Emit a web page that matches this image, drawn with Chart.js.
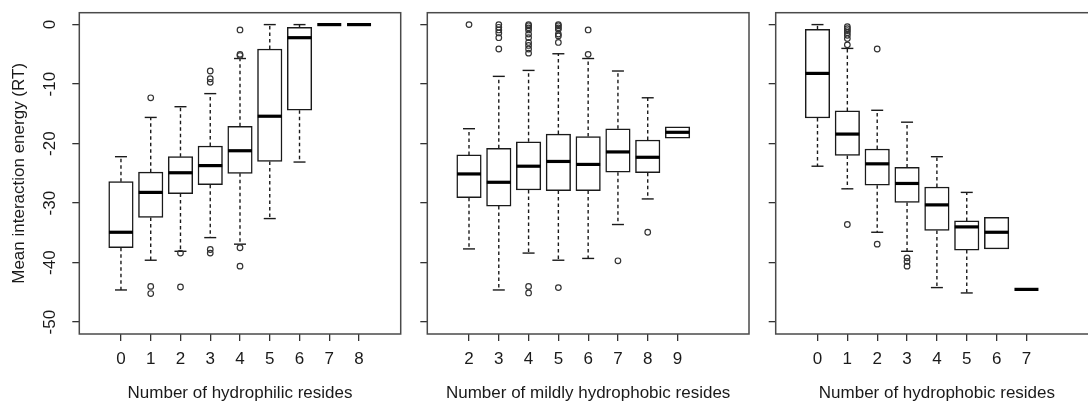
<!DOCTYPE html>
<html>
<head>
<meta charset="utf-8">
<script src="https://cdn.jsdelivr.net/npm/chart.js@4.4.1/dist/chart.umd.min.js"></script>
<style>
    html, body { margin: 0; padding: 0; background: #fff; overflow: hidden; }
    #wrap { position: relative; width: 1088px; height: 401px; overflow: hidden; background: #fff; }
    #wrap canvas { position: absolute; top: 0; }
</style>
</head>
<body>
<div id="wrap">
    <canvas id="hydrophilic" width="410" height="401" style="left:0px"></canvas>
    <canvas id="mildly" width="350" height="401" style="left:410px"></canvas>
    <canvas id="hydrophobic" width="350" height="401" style="left:760px"></canvas>
</div>
<script>
// Shared y axis
const yTicks = [0, -10, -20, -30, -40, -50];

// Panel 1: hydrophilic residues
const philicCounts = [0, 1, 2, 3, 4, 5, 6, 7, 8];
const philicLow    = [-44.6, -39.6, -38.1, -35.8, -36.9, -32.6, -23.1, 0, 0];
const philicQ1     = [-37.5, -32.4, -28.4, -26.9, -25.0, -23.0, -14.4, 0, 0];
const philicMedian = [-34.9, -28.2, -24.9, -23.7, -21.2, -15.4, -2.2, 0, 0];
const philicQ3     = [-26.4, -24.8, -22.2, -20.4, -17.1, -4.1, -0.45, 0, 0];
const philicHigh   = [-22.2, -15.6, -13.8, -11.6, -5.7, 0, 0, 0, 0];
const philicOutliers = [
    [1, -12.3], [1, -44.0], [1, -45.2],
    [2, -38.4], [2, -44.1],
    [3, -7.8], [3, -9.1], [3, -9.7], [3, -37.8], [3, -38.4],
    [4, -0.9], [4, -5.0], [4, -5.2], [4, -37.5], [4, -40.6]
];

// Panel 2: mildly hydrophobic residues
const mildCounts = [2, 3, 4, 5, 6, 7, 8, 9];
const mildLow    = [-37.7, -44.6, -38.4, -39.6, -39.3, -33.6, -29.3, -19.1];
const mildQ1     = [-29.1, -30.5, -27.8, -27.9, -27.9, -24.8, -24.9, -19.1];
const mildMedian = [-25.1, -26.5, -23.8, -23.0, -23.5, -21.4, -22.3, -18.1];
const mildQ3     = [-21.9, -20.8, -19.7, -18.4, -18.8, -17.5, -19.4, -17.2];
const mildHigh   = [-17.5, -8.7, -7.7, -4.9, -5.7, -7.8, -12.3, -17.2];
const mildOutliers = [
    [2, 0],
    [3, 0], [3, -0.45], [3, -0.9], [3, -1.4], [3, -2.2], [3, -4.1],
    [4, 0], [4, -0.2], [4, -0.55], [4, -0.9], [4, -1.6], [4, -2.2], [4, -3.0], [4, -3.5], [4, -4.1], [4, -4.8],
    [4, -44.0], [4, -45.1],
    [5, 0], [5, -0.2], [5, -0.55], [5, -0.8], [5, -1.6], [5, -1.9], [5, -3.0], [5, -44.2],
    [6, -0.9], [6, -5.0],
    [7, -39.7],
    [8, -34.9]
];

// Panel 3: hydrophobic residues
const phobicCounts = [0, 1, 2, 3, 4, 5, 6, 7];
const phobicLow    = [-23.8, -27.6, -34.9, -38.1, -44.2, -45.1, -37.7, -44.5];
const phobicQ1     = [-15.7, -22.0, -27.0, -29.9, -34.6, -37.9, -37.7, -44.5];
const phobicMedian = [-8.2, -18.4, -23.4, -26.7, -30.3, -34.0, -34.9, -44.5];
const phobicQ3     = [-0.8, -14.5, -20.9, -24.0, -27.3, -33.0, -32.4, -44.5];
const phobicHigh   = [0, -4.0, -14.4, -16.4, -22.2, -28.2, -32.4, -44.5];
const phobicOutliers = [
    [1, -0.35], [1, -0.7], [1, -1.0], [1, -1.35], [1, -1.8], [1, -2.35], [1, -3.4], [1, -33.6],
    [2, -4.1], [2, -36.9],
    [3, -39.2], [3, -39.8], [3, -40.6]
];

const FONT = '"Liberation Sans", Arial, Helvetica, sans-serif';
const INK = '#1a1a1a';
Chart.defaults.font.family = FONT;
Chart.defaults.font.size = 17;
Chart.defaults.color = INK;

// whiskers, medians, frame and rotated y labels, all placed with the chart scales
function boxPartsPlugin(stats, showYLabels) {
    const halfBox = 12;
    const halfStaple = 6;
    return {
        id: 'boxParts',
        beforeDatasetsDraw(chart) {
            const { ctx, scales: { x, y } } = chart;
            ctx.save();
            ctx.strokeStyle = INK;
            ctx.lineWidth = 1.4;
            stats.cats.forEach((c, i) => {
                const px = x.getPixelForValue(c);
                [[stats.q3[i], stats.hi[i]], [stats.q1[i], stats.lo[i]]].forEach(([from, to]) => {
                    if (from === to) return;
                    const y0 = y.getPixelForValue(from);
                    const y1 = y.getPixelForValue(to);
                    ctx.setLineDash([3.5, 3]);
                    ctx.beginPath();
                    ctx.moveTo(px, y0);
                    ctx.lineTo(px, y1);
                    ctx.stroke();
                    ctx.setLineDash([]);
                    ctx.beginPath();
                    ctx.moveTo(px - halfStaple, y1);
                    ctx.lineTo(px + halfStaple, y1);
                    ctx.stroke();
                });
            });
            ctx.restore();
        },
        afterDatasetsDraw(chart) {
            const { ctx, scales: { x, y } } = chart;
            ctx.save();
            ctx.strokeStyle = '#000';
            ctx.lineWidth = 3.2;
            stats.cats.forEach((c, i) => {
                const px = x.getPixelForValue(c);
                const py = y.getPixelForValue(stats.med[i]);
                ctx.beginPath();
                ctx.moveTo(px - halfBox, py);
                ctx.lineTo(px + halfBox, py);
                ctx.stroke();
            });
            ctx.restore();
        },
        afterDraw(chart) {
            const { ctx, chartArea: a, scales: { y } } = chart;
            ctx.save();
            ctx.strokeStyle = '#4a4a4a';
            ctx.lineWidth = 1.5;
            ctx.strokeRect(a.left, a.top, a.right - a.left, a.bottom - a.top);
            if (showYLabels) {
                ctx.fillStyle = INK;
                ctx.font = '17px ' + FONT;
                ctx.textAlign = 'center';
                ctx.textBaseline = 'middle';
                yTicks.forEach(v => {
                    ctx.save();
                    ctx.translate(50, y.getPixelForValue(v));
                    ctx.rotate(-Math.PI / 2);
                    ctx.fillText(String(v), 0, 0);
                    ctx.restore();
                });
            }
            ctx.restore();
        }
    };
}

function createPanel(canvasId, cats, lo, q1, med, q3, hi, outliers, xTitle, layoutOpts) {
    const ctx = document.getElementById(canvasId);
    const stats = { cats, lo, q1, med, q3, hi };

    return new Chart(ctx, {
        type: 'scatter',
        data: {
            datasets: [
                {
                    type: 'scatter',
                    data: outliers.map(([cx, v]) => ({ x: cx, y: v })),
                    pointStyle: 'circle',
                    pointRadius: 2.8,
                    pointBorderWidth: 1.2,
                    pointBorderColor: '#333',
                    pointBackgroundColor: 'rgba(255,255,255,0)',
                    order: 0
                },
                {
                    type: 'bar',
                    data: cats.map((c, i) => ({ x: c, y: [q3[i], q1[i]] })),
                    backgroundColor: '#ffffff',
                    borderColor: INK,
                    borderWidth: 1.5,
                    borderSkipped: false,
                    barThickness: 24.5,
                    order: 1
                }
            ]
        },
        options: {
            responsive: false,
            animation: false,
            devicePixelRatio: 1,
            layout: {
                padding: { top: 12.7, right: layoutOpts.padRight, left: 0, bottom: 0 }
            },
            plugins: {
                legend: { display: false },
                tooltip: { enabled: false }
            },
            scales: {
                x: {
                    type: 'linear',
                    min: layoutOpts.xMin,
                    max: layoutOpts.xMax,
                    offset: false,
                    afterBuildTicks: axis => { axis.ticks = cats.map(v => ({ value: v })); },
                    afterFit: axis => { axis.height = 67; },
                    ticks: {
                        autoSkip: false,
                        maxRotation: 0,
                        padding: 8,
                        callback: v => String(v)
                    },
                    grid: {
                        offset: false,
                        drawOnChartArea: false,
                        drawTicks: true,
                        tickLength: 7,
                        color: '#333',
                        lineWidth: 1.3
                    },
                    border: { display: false },
                    title: {
                        display: true,
                        text: xTitle,
                        font: { size: layoutOpts.titleSize || 17, lineHeight: 1 },
                        padding: { top: 0, bottom: -1 }
                    }
                },
                y: {
                    type: 'linear',
                    min: -52,
                    max: 2,
                    afterBuildTicks: axis => { axis.ticks = yTicks.map(v => ({ value: v })); },
                    afterFit: axis => { axis.width = layoutOpts.yWidth; },
                    ticks: { display: false },
                    grid: {
                        drawOnChartArea: false,
                        drawTicks: true,
                        tickLength: 7,
                        color: '#333',
                        lineWidth: 1.3
                    },
                    border: { display: false },
                    title: {
                        display: layoutOpts.yTitle !== undefined,
                        text: layoutOpts.yTitle || '',
                        font: { size: 17, lineHeight: 1 },
                        padding: { top: 10.5, bottom: 0 }
                    }
                }
            }
        },
        plugins: [boxPartsPlugin(stats, layoutOpts.showYLabels)]
    });
}

createPanel('hydrophilic', philicCounts, philicLow, philicQ1, philicMedian, philicQ3, philicHigh,
    philicOutliers, 'Number of hydrophilic resides',
    { xMin: -1.4, xMax: 9.4, yWidth: 79.3, padRight: 9.3, showYLabels: true, yTitle: 'Mean interaction energy (RT)' });

createPanel('mildly', mildCounts, mildLow, mildQ1, mildMedian, mildQ3, mildHigh,
    mildOutliers, 'Number of mildly hydrophobic resides',
    { xMin: 0.6, xMax: 11.4, yWidth: 17.3, padRight: 11, showYLabels: false });

createPanel('hydrophobic', phobicCounts, phobicLow, phobicQ1, phobicMedian, phobicQ3, phobicHigh,
    phobicOutliers, 'Number of hydrophobic resides',
    { xMin: -1.4, xMax: 9.4, yWidth: 15.7, padRight: 11.9, showYLabels: false });
</script>
</body>
</html>
